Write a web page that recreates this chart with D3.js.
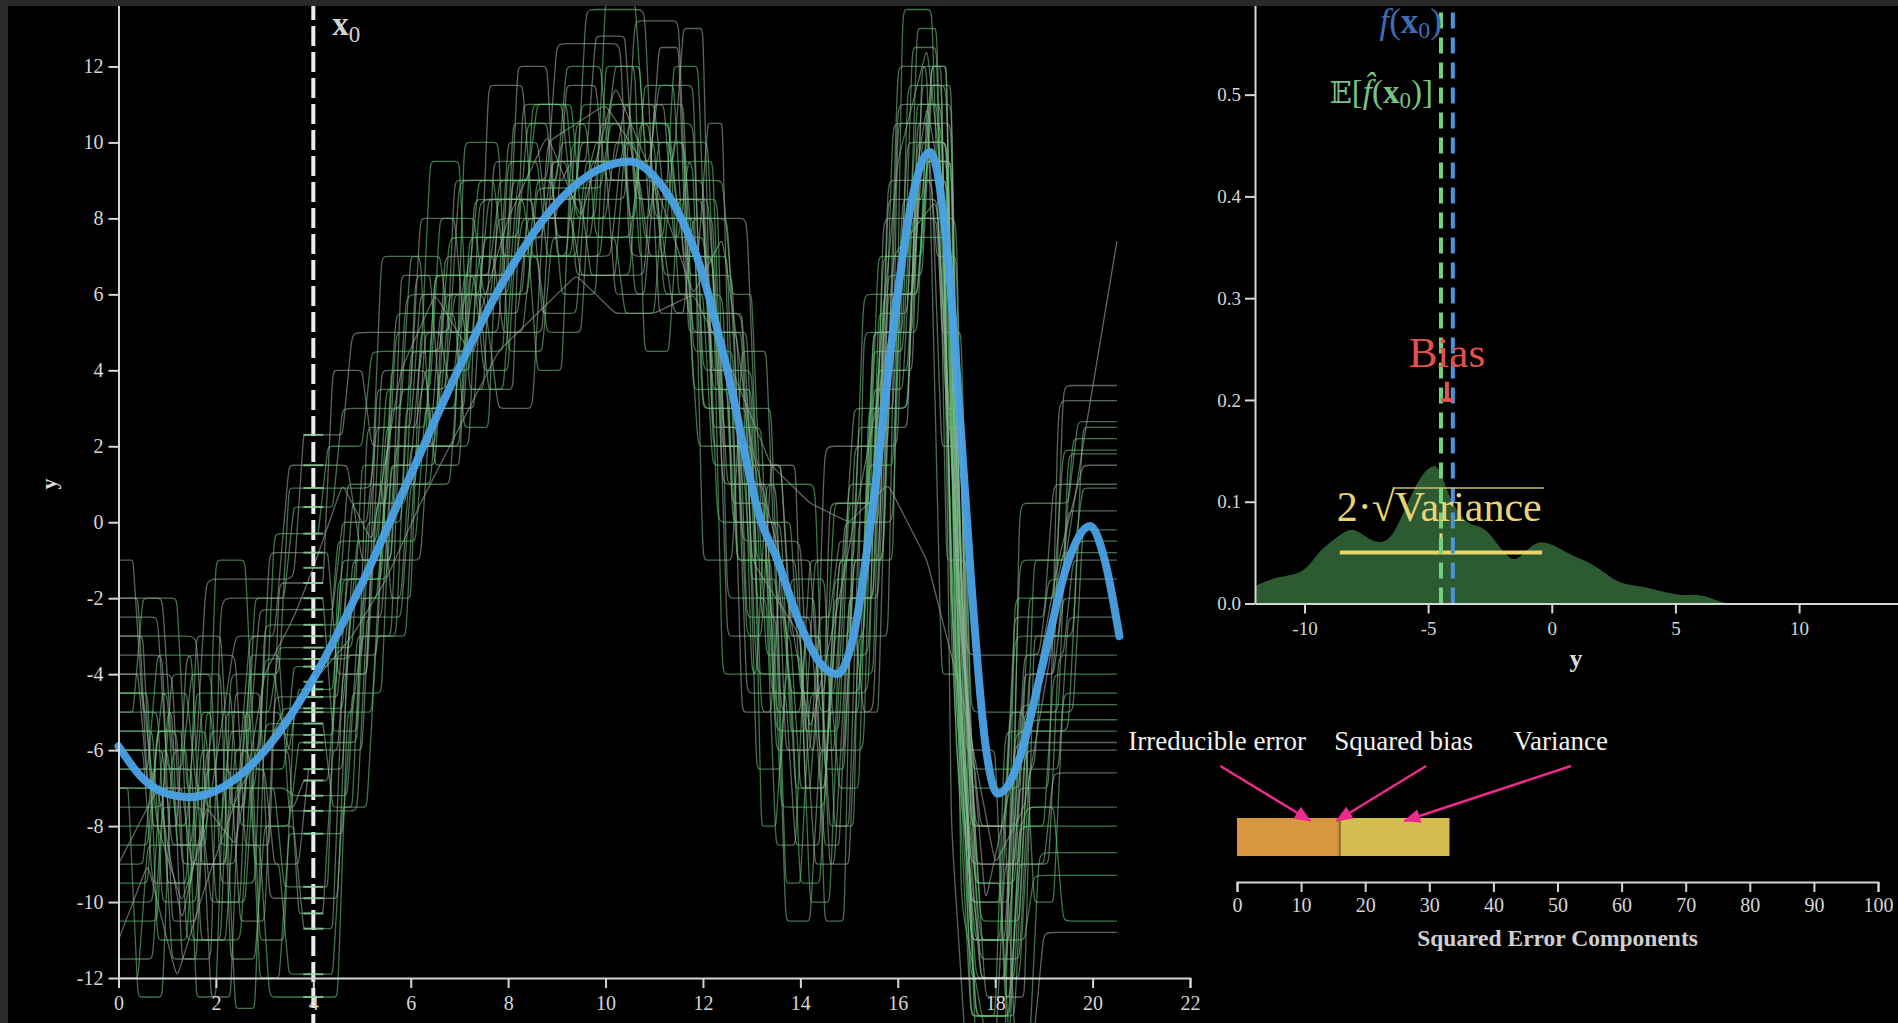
<!DOCTYPE html>
<html>
<head>
<meta charset="utf-8">
<script src="https://cdn.jsdelivr.net/npm/d3@7"></script>
<style>
html, body { margin: 0; padding: 0; background: #000; overflow: hidden; }
svg { display: block; }
</style>
</head>
<body>
<svg id="chart" width="1898" height="1023"></svg>
<script>
const width = 1898;
const height = 1023;

// true function f(x)
const fX = [0, 0.5, 1, 1.42, 2, 3, 4, 5, 6, 7, 8, 9, 10, 10.5, 11, 12, 12.5, 13.2, 13.5, 14, 14.4, 14.76, 15.1, 15.5, 16, 16.3, 16.66, 17, 17.3, 17.5, 17.8, 18.05, 18.3, 18.5, 19, 19.5, 19.95, 20.25, 20.55];
const fY = [-5.9, -6.75, -7.15, -7.24, -7.07, -6.02, -4.12, -1.61, 1.25, 4.08, 6.56, 8.4, 9.37, 9.5, 9.1, 6.5, 4.0, 0.0, -0.9, -2.7, -3.7, -4.0, -2.94, 0.53, 6.05, 8.56, 9.75, 7.38, 2.35, -1.42, -5.85, -7.15, -6.85, -6.22, -3.62, -1.03, -0.1, -1.0, -3.0];

// fitted models (smoothed step functions), knots [x, y]
const fits = [
  [[0,-2],[0.9,-2],[1.1,-6],[1.6,-6],[1.8,-1.5],[3.6,-1.5],[3.8,2.3],[4,2.3],[4.6,2.3],[4.8,5],[6.8,5],[7,9],[8.8,9],[9,12.6],[10.3,12.6],[10.5,7],[12.2,7],[12.4,1],[13.5,1],[13.7,-6],[14.3,-6],[14.5,2],[15.8,2],[16,11],[16.9,11],[17.1,-2],[17.5,-9],[18.4,-9],[18.6,-4],[19.2,-4],[19.4,3.6],[20.5,3.6]],
  [[0,-4.5],[0.5,-4.5],[0.8,-8],[1.3,-10],[1.8,-8],[2.4,-3],[3.2,-3],[3.5,1.5],[4,1.5],[4.7,1.5],[5,-1],[5.6,-1],[5.9,6],[7.5,6],[7.8,3],[8.5,3],[8.8,10],[10,11],[11,9],[11.4,5.5],[12.8,5.5],[13,-1],[14,-3],[14.3,-9],[14.7,-9],[15,-2],[15.6,-2],[15.9,7],[16.8,8.5],[17.2,0],[17.7,-12],[18.2,-12],[18.5,-7],[19.1,-7],[19.3,3.2],[20.5,3.2]],
  [[0,-5.5],[1.2,-5.5],[1.4,-11],[2.1,-11],[2.3,-4],[3.3,-4],[3.5,0.9],[4,0.9],[5.2,0.9],[5.4,7],[6.2,7],[6.4,2],[7.2,2],[7.4,8.5],[9.4,8.5],[9.6,13.5],[10.8,13.5],[11,8],[12.5,8],[12.7,3],[13.4,3],[13.6,-5],[14.6,-5],[14.8,-1],[15.7,-1],[16,12],[16.6,12],[16.9,-4],[17.3,-4],[17.5,-13],[18.3,-13],[18.5,0.5],[19.5,0.5],[19.7,2.65],[20.5,2.65]],
  [[0,-3],[1.6,-3],[1.8,-7.5],[2.6,-7.5],[2.8,-2],[3.4,-2],[3.6,0.4],[4,0.4],[4.4,0.4],[4.6,3],[5.8,3],[6,7],[6.6,7],[6.8,5],[7.8,5],[8,9.5],[9.2,9.5],[9.4,6.5],[10.5,6.5],[10.7,10.5],[11.8,10.5],[12,4],[13,4],[13.2,-2.5],[13.7,-2.5],[13.9,-7],[14.2,-7],[14.4,-3.5],[15.4,-3.5],[15.6,4],[16,9.5],[16.6,12.5],[16.9,9],[17.2,-6],[17.6,-11],[18.1,-11],[18.4,-3],[19.6,-3],[19.8,2.5],[20.5,2.5]],
  [[0,-6.5],[0.6,-6.5],[0.8,-3.5],[1.5,-3.5],[1.7,-9],[2.2,-9],[2.4,-6],[3,-6],[3.2,-0.3],[4,-0.3],[4.1,-0.3],[4.3,2],[5,2],[5.2,4.5],[6.6,4.5],[6.8,7.5],[8.2,7.5],[8.4,10.5],[9.6,10.5],[9.8,7.5],[11.2,7.5],[11.4,12],[11.9,12],[12.1,5],[12.8,5],[13,-4],[13.8,-4],[14,-9.5],[14.4,-9.5],[14.6,-5],[15.2,-5],[15.4,3],[16.2,3],[16.4,10],[17,10],[17.2,3],[17.5,-8],[18.6,-8],[18.8,-1],[19.4,-1],[19.6,2.2],[20.5,2.2]],
  [[0,-9],[0.8,-7],[1.3,-10.5],[1.8,-7.5],[2.4,-8.5],[3,-4],[3.6,-2.5],[4,-1.2],[4.6,1],[5.2,-0.5],[5.8,4],[6.5,6],[7.2,4.5],[8,8],[8.8,10.2],[9.5,8],[10.2,11.5],[11,9],[11.8,6],[12.4,7.5],[13,2],[13.6,-1],[14.2,-5.5],[14.8,-2],[15.4,2],[16,6],[16.6,11],[17,8],[17.4,-4],[17.8,-10],[18.3,-7],[18.8,-4.5],[19.3,-1],[19.8,1.5],[20.5,1.5]],
  [[0,-1],[0.3,-1],[0.5,-5],[1.1,-5],[1.3,-11.5],[1.9,-11.5],[2.1,-2],[3.7,-2],[4,-2],[4.2,-2],[4.4,-5.5],[4.9,-5.5],[5.1,2.5],[6,2.5],[6.2,6],[7.4,6],[7.6,3.5],[8.1,3.5],[8.3,11],[9.1,11],[9.3,8.5],[10.4,8.5],[10.6,13.2],[11.5,13.2],[11.7,6.5],[12.6,6.5],[12.8,-0.5],[14,-0.5],[14.2,-6],[14.7,-6],[14.9,0],[15.9,0],[16.1,8],[17,8],[17.2,4],[17.4,-6],[18,-6],[18.2,-12.5],[18.6,-12.5],[18.8,-3],[19.3,-3],[19.5,0.3],[20.5,0.3]],
  [[0,-7.5],[0.9,-7.5],[1.1,-4],[1.9,-4],[2.1,-9.5],[2.8,-9.5],[3,-2.7],[4,-2.7],[4.5,-2.7],[4.7,1],[5.4,1],[5.6,-2],[6,-2],[6.2,5],[7,5],[7.2,7],[8.6,7],[8.8,5],[9.5,5],[9.7,9.5],[10.9,9.5],[11.1,11.5],[11.8,11.5],[12,3],[12.9,3],[13.1,-6.5],[13.6,-6.5],[13.8,-1.5],[14.5,-1.5],[14.7,-8],[15.1,-8],[15.3,5],[16.1,5],[16.3,12.5],[16.8,12.5],[17,-1],[17.4,-1],[17.6,-9.5],[18.4,-9.5],[18.6,-5],[19.6,-5],[19.8,-0.2],[20.5,-0.2]],
  [[0,-10],[0.7,-10],[0.9,-6],[1.4,-6],[1.6,-12.5],[2,-12.5],[2.2,-5],[3.1,-5],[3.3,-3.3],[4,-3.3],[4.8,-3.3],[5,1.5],[5.5,1.5],[5.7,5.5],[6.9,5.5],[7.1,2.5],[7.6,2.5],[7.8,9],[8.9,9],[9.1,6],[9.8,6],[10,12],[10.6,12],[10.8,4.5],[11.3,4.5],[11.5,8.5],[12.3,8.5],[12.5,-2],[13.3,-2],[13.5,-8.5],[13.9,-8.5],[14.1,-3],[15,-3],[15.2,2.5],[15.7,2.5],[15.9,10.5],[16.9,10.5],[17.1,-3],[17.5,-13],[18,-13],[18.2,-5.5],[19.5,-5.5],[19.7,-0.5],[20.5,-0.5]],
  [[0,-4.5],[1,-4.5],[1.2,-8.5],[1.8,-8.5],[2,-1],[2.6,-1],[2.8,-6.5],[3.4,-6.5],[3.6,-3.8],[4,-3.8],[4.3,-3.8],[4.5,-0.5],[5.3,-0.5],[5.5,3.5],[6.4,3.5],[6.6,8],[7.3,8],[7.5,6],[8.4,6],[8.6,8.8],[9.9,8.8],[10.1,10.5],[11.3,10.5],[11.5,6],[12,6],[12.2,1.5],[13.1,1.5],[13.3,-3.5],[14,-3.5],[14.2,-10],[14.6,-10],[14.8,-4],[15.5,-4],[15.7,6],[16.4,6],[16.6,9.5],[17,9.5],[17.2,1],[17.6,-14],[18.2,-14],[18.4,-2],[19.2,-2],[19.4,-0.8],[20.5,-0.8]],
  [[0,-11],[0.6,-9],[1.2,-12],[1.8,-9.5],[2.5,-7],[3.2,-5.5],[4,-4.2],[4.8,-3],[5.5,-1.5],[6.2,0.5],[7,2.5],[7.8,4.5],[8.6,5.5],[9.4,6.5],[10.2,5.5],[11,5.5],[11.8,6],[12.6,4],[13.4,1.5],[14.2,0.5],[15,0],[15.8,1],[16.6,-1],[17.4,-5],[18,-9],[18.6,-7.5],[19.2,-3],[19.8,2],[20.5,7.4]],
  [[0,-2.5],[0.8,-2.5],[1,-6.5],[2.3,-6.5],[2.5,-10.5],[3,-10.5],[3.2,-4.6],[4,-4.6],[4.5,-4.6],[4.7,-1.5],[5.2,-1.5],[5.4,4],[6.3,4],[6.5,1.5],[7,1.5],[7.2,6.5],[8,6.5],[8.2,12],[8.8,12],[9,7],[10.1,7],[10.3,9.5],[11.4,9.5],[11.6,13],[12,13],[12.2,2],[12.9,2],[13.1,-4],[14.8,-4],[15,1],[15.6,1],[15.8,6.5],[16.5,6.5],[16.7,11.5],[17.1,11.5],[17.3,-7],[17.7,-11.5],[18.5,-11.5],[18.7,-6.5],[19.3,-6.5],[19.5,-2.5],[20.5,-2.5]],
  [[0,-12],[0.4,-12],[0.6,-8.5],[1.5,-8.5],[1.7,-5],[2.7,-5],[2.9,-11],[3.4,-11],[3.6,-5],[4,-5],[4.8,-5],[5,-3],[5.7,-3],[5.9,3],[6.7,3],[6.9,9],[7.7,9],[7.9,7],[9.2,7],[9.4,10.5],[10.3,10.5],[10.5,8],[11.6,8],[11.8,5],[12.7,5],[12.9,-2.5],[13.5,-2.5],[13.7,-10.5],[14.2,-10.5],[14.4,-6],[15.3,-6],[15.5,3.5],[16.1,3.5],[16.3,8],[17.2,8],[17.4,-4],[17.8,-12.5],[18.3,-12.5],[18.5,-9],[19.1,-9],[19.3,-3.5],[20.5,-3.5]],
  [[0,-5],[0.3,-5],[0.5,-2],[1.2,-2],[1.4,-7],[2.2,-7],[2.4,-12.8],[2.8,-12.8],[3,-5.3],[4,-5.3],[4.2,-5.3],[4.4,-7.5],[4.8,-7.5],[5,-2],[5.8,-2],[6,2],[6.9,2],[7.1,10],[7.8,10],[8,4.5],[8.7,4.5],[8.9,7.5],[10.2,7.5],[10.4,5.5],[11,5.5],[11.2,9],[12.4,9],[12.6,6],[13,6],[13.2,0],[13.8,0],[14,-4.5],[15.2,-4.5],[15.4,-1],[15.9,-1],[16.1,13.5],[16.7,13.5],[16.9,5],[17.3,5],[17.5,-5],[18.6,-5],[18.8,-10],[19.2,-10],[19.4,-4.5],[20.5,-4.5]],
  [[0,-8],[1.4,-8],[1.6,-4.5],[2.3,-4.5],[2.5,-8],[3.5,-8],[3.7,-5.8],[4,-5.8],[4.9,-5.8],[5.1,0],[5.8,0],[6,4.5],[7.1,4.5],[7.3,6.5],[8.1,6.5],[8.3,8],[9.8,8],[10,13.8],[10.6,13.8],[10.8,10],[11.6,10],[11.8,7],[12.5,7],[12.7,-1],[13.4,-1],[13.6,-7.5],[14.5,-7.5],[14.7,-1.5],[15.3,-1.5],[15.5,5],[16.4,5],[16.6,11],[17.1,11],[17.3,-2],[17.7,-10.5],[18.5,-10.5],[18.7,-5.2],[20.5,-5.2]],
  [[0,-3.5],[0.9,-3.5],[1.1,-10.5],[1.6,-10.5],[1.8,-6.5],[3,-6.5],[3.2,-9],[3.7,-9],[3.9,-6.5],[4,-6.5],[4.6,-6.5],[4.8,-1],[5.6,-1],[5.8,6.5],[6.4,6.5],[6.6,3],[7.3,3],[7.5,7.5],[8.7,7.5],[8.9,9.5],[9.6,9.5],[9.8,12.8],[10.4,12.8],[10.6,8.5],[12,8.5],[12.2,2.5],[12.7,2.5],[12.9,-4.5],[13.7,-4.5],[13.9,-8.5],[14.4,-8.5],[14.6,0.5],[15.6,0.5],[15.8,9],[16.7,9],[16.9,2],[17.3,2],[17.5,-11],[18.2,-11],[18.4,-5.8],[20.5,-5.8]],
  [[0,-6],[0.5,-6],[0.7,-9.5],[1.4,-9.5],[1.6,-3],[2.1,-3],[2.3,-7.5],[3.6,-7.5],[3.8,-6.8],[4,-6.8],[4.3,-6.8],[4.5,-3.5],[5,-3.5],[5.2,1],[6.1,1],[6.3,5],[7.4,5],[7.6,11.5],[8.3,11.5],[8.5,8],[9.3,8],[9.5,6.5],[10.8,6.5],[11,11],[11.6,11],[11.8,4.5],[12.6,4.5],[12.8,1],[13.3,1],[13.5,-6],[14.2,-6],[14.4,-2.5],[15.1,-2.5],[15.3,-5],[15.6,-5],[15.8,4],[16.3,4],[16.5,12],[16.9,12],[17.1,-8],[17.4,-14],[18,-14],[18.2,-9],[19,-9],[19.2,-6.6],[20.5,-6.6]],
  [[0,-11.5],[0.7,-11.5],[0.9,-7.5],[1.7,-7.5],[1.9,-10],[2.5,-10],[2.7,-3.5],[3.3,-3.5],[3.5,-7.6],[4,-7.6],[4.9,-7.6],[5.1,-2.5],[5.8,-2.5],[6,1],[6.8,1],[7,4.5],[7.9,4.5],[8.1,10.5],[8.8,10.5],[9,7.5],[10.5,7.5],[10.7,9.5],[11.8,9.5],[12,-1],[12.6,-1],[12.8,4.5],[13.3,4.5],[13.5,-2],[14.3,-2],[14.5,-10.5],[14.9,-10.5],[15.1,2],[16,2],[16.2,11.5],[17,11.5],[17.2,-1.5],[17.6,-13],[18.4,-13],[18.6,-7.5],[20.5,-7.5]],
  [[0,-7],[0.2,-7],[0.4,-12.5],[0.9,-12.5],[1.1,-6],[2.7,-6],[2.9,-12],[3.3,-12],[3.5,-8.2],[4,-8.2],[4.6,-8.2],[4.8,-4.5],[5.4,-4.5],[5.6,1.5],[6.5,1.5],[6.7,6],[8,6],[8.2,9],[9,9],[9.2,12],[9.9,12],[10.1,9],[11,9],[11.2,6.5],[12.1,6.5],[12.3,0],[13.6,0],[13.8,-5.5],[14.1,-5.5],[14.3,-1],[15.1,-1],[15.3,6],[16.3,6],[16.5,10],[17,10],[17.2,-5],[17.6,-9.5],[18.1,-9.5],[18.3,-14],[18.7,-14],[18.9,-8.7],[20.5,-8.7]],
  [[0,-9.5],[0.6,-9.5],[0.8,-5.5],[1.3,-5.5],[1.5,-11],[2.5,-11],[2.7,-7],[3.2,-7],[3.4,-9.6],[4,-9.6],[4.3,-9.6],[4.5,-1.5],[5.4,-1.5],[5.6,4],[6.2,4],[6.4,9.5],[7,9.5],[7.2,3.5],[7.9,3.5],[8.1,7],[9.3,7],[9.5,11],[10.5,11],[10.7,7],[11.2,7],[11.4,10],[12.1,10],[12.3,3.5],[13,3.5],[13.2,-8],[13.5,-8],[13.7,-4],[14.6,-4],[14.8,-7],[15.2,-7],[15.4,1.5],[15.9,1.5],[16.1,7.5],[17,7.5],[17.2,-3],[17.6,-12],[18.5,-12],[18.7,-7.5],[19.2,-7.5],[19.4,-10.5],[20.5,-10.5]],
  [[0,-4],[1.1,-4],[1.3,-9],[2.2,-9],[2.4,-4.5],[2.9,-4.5],[3.1,-9.9],[4,-9.9],[4.5,-9.9],[4.7,-3.5],[5.3,-3.5],[5.5,2],[6.4,2],[6.6,5.5],[7.6,5.5],[7.8,8],[9,8],[9.2,11.5],[9.8,11.5],[10,9],[10.9,9],[11.1,12.5],[11.5,12.5],[11.7,5],[12.3,5],[12.5,-3],[13.2,-3],[13.4,1.5],[13.9,1.5],[14.1,-7],[14.5,-7],[14.7,-2],[15.5,-2],[15.7,8],[16.8,8],[17,3],[17.3,3],[17.5,-8],[18.2,-8],[18.4,-13.5],[18.8,-13.5],[19,-10.8],[20.5,-10.8]],
  [[0,-2],[0.4,-2],[0.6,-7],[1.7,-7],[1.9,-12.5],[2.3,-12.5],[2.5,-6],[3.5,-6],[3.7,-10.3],[4,-10.3],[4.2,-10.3],[4.4,-6],[5,-6],[5.2,-1],[6.2,-1],[6.4,3],[7.1,3],[7.3,8.5],[8.5,8.5],[8.7,5.5],[9.4,5.5],[9.6,9],[10.7,9],[10.9,7],[11.9,7],[12.1,10.5],[12.4,10.5],[12.6,0],[13.5,0],[13.7,-3],[14.4,-3],[14.6,-9],[15,-9],[15.2,-3],[15.8,-3],[16,10.5],[16.6,10.5],[16.8,7],[17.2,7],[17.4,-3.5],[18.9,-3.5],[19.1,-1.5],[20.5,-1.5]],
  [[0,-6.5],[1.3,-6.5],[1.5,-4],[2.1,-4],[2.3,-11.5],[2.8,-11.5],[3,-8],[3.6,-8],[3.8,-10.7],[4,-10.7],[4.4,-10.7],[4.6,-4],[5.1,-4],[5.3,0.5],[5.9,0.5],[6.1,6.5],[7.3,6.5],[7.5,4],[8,4],[8.2,8.5],[9.5,8.5],[9.7,6.5],[10.2,6.5],[10.4,10],[11.3,10],[11.5,8],[12.2,8],[12.4,2],[13,2],[13.2,-5],[14,-5],[14.2,-1],[14.9,-1],[15.1,3],[16.2,3],[16.4,9],[17,9],[17.2,-2],[17.5,-10],[18.3,-10],[18.5,-1],[19.6,-1],[19.8,0.9],[20.5,0.9]],
  [[0,-5.5],[0.7,-5.5],[0.9,-10],[1.6,-10],[1.8,-5],[2.6,-5],[2.8,-9],[3.3,-9],[3.5,-11.9],[4,-11.9],[4.4,-11.9],[4.6,-7.5],[5.1,-7.5],[5.3,-3],[5.9,-3],[6.1,2],[7,2],[7.2,7.5],[8.4,7.5],[8.6,4],[9.1,4],[9.3,10],[10.4,10],[10.6,6],[11.7,6],[11.9,2],[12.8,2],[13,-1.5],[13.5,-1.5],[13.7,-9.5],[14,-9.5],[14.2,-4.5],[15.4,-4.5],[15.6,5.5],[16.2,5.5],[16.4,13],[16.8,13],[17,2.5],[17.3,2.5],[17.5,-6.5],[18.8,-6.5],[19,-3],[20.5,-3]],
  [[0,-10.5],[0.8,-10.5],[1,-5],[1.9,-5],[2.1,-8.5],[2.9,-8.5],[3.1,-12.5],[4,-12.5],[4.5,-12.5],[4.7,-5],[5.2,-5],[5.4,-0.5],[6.1,-0.5],[6.3,3],[6.9,3],[7.1,6],[8.3,6],[8.5,11],[9.3,11],[9.5,8],[10.6,8],[10.8,11.5],[11.4,11.5],[11.6,7],[12.2,7],[12.4,-4],[13.1,-4],[13.3,1],[14.3,1],[14.5,-6.5],[14.9,-6.5],[15.1,-1],[15.7,-1],[15.9,6],[16.4,6],[16.6,9.5],[17.1,9.5],[17.3,-10],[17.8,-13.5],[18.3,-13.5],[18.5,-8],[19,-8],[19.2,-4],[20.5,-4]],
  [[0,-3],[0.5,-3],[0.7,-8],[1.2,-8],[1.4,-3.5],[2.4,-3.5],[2.6,-8.5],[3.1,-8.5],[3.3,-1.6],[4,-1.6],[4.2,-1.6],[4.4,4],[5,4],[5.2,2],[6.5,2],[6.7,7],[7.7,7],[7.9,5],[8.7,5],[8.9,9.5],[10,9.5],[10.2,6],[10.8,6],[11,9],[12,9],[12.2,4],[12.6,4],[12.8,-5],[13.4,-5],[13.6,-1],[14.2,-1],[14.4,-5],[15.5,-5],[15.7,2.5],[16.2,2.5],[16.4,10.5],[17.1,10.5],[17.3,-5.5],[17.7,-12],[18.4,-12],[18.6,-6],[20.5,-6]],
  [[0,-7],[0.9,-7],[1.1,-11.5],[1.6,-11.5],[1.8,-6],[2.9,-6],[3.1,-0.8],[4,-0.8],[4.3,-0.8],[4.5,-4],[5.1,-4],[5.3,3.5],[6,3.5],[6.2,8],[6.9,8],[7.1,5],[8.3,5],[8.5,7.5],[9.7,7.5],[9.9,10.5],[10.9,10.5],[11.1,5.5],[11.6,5.5],[11.8,8],[12.9,8],[13.1,1.5],[13.6,1.5],[13.8,-3],[14.4,-3],[14.6,-8],[15,-8],[15.2,0],[15.6,0],[15.8,8.5],[16.5,8.5],[16.7,12],[17,12],[17.2,-1],[17.6,-8],[18.2,-8],[18.4,-2.5],[19,-2.5],[19.2,1],[20.5,1]],
  [[0,-5],[0.8,-5],[1,-9.5],[1.5,-9.5],[1.7,-6],[2.5,-6],[2.7,-3],[4,-3],[4.6,-3],[4.8,0.5],[5.5,0.5],[5.7,5],[6.6,5],[6.8,3.5],[7.5,3.5],[7.7,9.5],[8.6,9.5],[8.8,7],[9.9,7],[10.1,11],[11,11],[11.2,8.5],[12.1,8.5],[12.3,5],[12.9,5],[13.1,-1],[13.9,-1],[14.1,-5.5],[14.6,-5.5],[14.8,-1],[15.3,-1],[15.5,5],[16,5],[16.2,10],[17,10],[17.2,0],[17.5,-10],[18.1,-10],[18.3,-5],[19.3,-5],[19.5,1.8],[20.5,1.8]],
  [[0,-8.5],[0.6,-8.5],[0.8,-5.5],[1.8,-5.5],[2,-10],[2.6,-10],[2.8,-6],[3.5,-6],[3.7,-4.4],[4,-4.4],[4.4,-4.4],[4.6,-1],[5.3,-1],[5.5,2.5],[6.3,2.5],[6.5,6.5],[7.6,6.5],[7.8,8.5],[8.9,8.5],[9.1,10],[10,10],[10.2,12],[10.7,12],[10.9,8],[11.8,8],[12,3],[12.7,3],[12.9,-3],[13.8,-3],[14,-7],[14.5,-7],[14.7,-3],[15.3,-3],[15.5,4.5],[16.1,4.5],[16.3,9],[16.9,9],[17.1,-1],[17.5,-11],[18.3,-11],[18.5,-4.8],[20.5,-4.8]],
  [[0,-6],[1,-6],[1.2,-8],[2.1,-8],[2.3,-5.5],[3.2,-5.5],[3.4,-4.9],[4,-4.9],[4.6,-4.9],[4.8,-2],[5.3,-2],[5.5,1],[6.4,1],[6.6,4],[7.2,4],[7.4,7],[8.4,7],[8.6,9],[9.6,9],[9.8,10],[10.6,10],[10.8,7.5],[11.5,7.5],[11.7,9.5],[12.2,9.5],[12.4,2.5],[13.2,2.5],[13.4,-4.5],[14.5,-4.5],[14.7,0.5],[15.4,0.5],[15.6,7],[16.2,7],[16.4,11],[16.8,11],[17,6],[17.3,-5],[17.7,-11],[18.6,-11],[18.8,-9.3],[20.5,-9.3]],
  [[0,-4],[0.4,-4],[0.6,-7],[1.3,-7],[1.5,-9],[2.4,-9],[2.6,-5],[3.3,-5],[3.5,-6],[4,-6],[4.5,-6],[4.7,-2.5],[5.4,-2.5],[5.6,1.5],[6,1.5],[6.2,4.5],[7.3,4.5],[7.5,5.5],[8.2,5.5],[8.4,8],[9.3,8],[9.5,10],[10.5,10],[10.7,8.5],[11.5,8.5],[11.7,5.5],[12.3,5.5],[12.5,1],[13.2,1],[13.4,-2.5],[14.2,-2.5],[14.4,-6],[14.9,-6],[15.1,-1],[15.6,-1],[15.8,6],[16.3,6],[16.5,9.5],[17.1,9.5],[17.3,-2],[17.6,-9],[18.5,-9],[18.7,-4],[19.2,-4],[19.4,-2],[20.5,-2]],
  [[0,-6],[0.9,-6],[1.1,-8.5],[1.7,-8.5],[1.9,-5.5],[2.7,-5.5],[2.9,-2.3],[4,-2.3],[4.4,-2.3],[4.6,0],[5.1,0],[5.3,2.5],[6.1,2.5],[6.3,4],[6.9,4],[7.1,6.5],[7.9,6.5],[8.1,9],[9.1,9],[9.3,9.5],[10.2,9.5],[10.4,11],[11.2,11],[11.4,7.5],[12,7.5],[12.2,5.5],[12.8,5.5],[13,1.5],[13.6,1.5],[13.8,-2.5],[14.6,-2.5],[14.8,-0.5],[15.4,-0.5],[15.6,3],[15.9,3],[16.1,8.5],[16.8,8.5],[17,4],[17.3,-3],[17.7,-8],[18.4,-8],[18.6,-3.5],[19.4,-3.5],[19.6,-1],[20.5,-1]],
  [[0,-9],[0.5,-9],[0.7,-6.5],[1.5,-6.5],[1.7,-11],[2.2,-11],[2.4,-7],[3.4,-7],[3.6,-7.2],[4,-7.2],[4.7,-7.2],[4.9,-3],[5.6,-3],[5.8,3.5],[6.7,3.5],[6.9,6],[7.8,6],[8,10],[8.6,10],[8.8,8],[10,8],[10.2,10],[11,10],[11.2,6],[12.4,6],[12.6,0.5],[13.3,0.5],[13.5,-5],[14.3,-5],[14.5,-8.5],[14.8,-8.5],[15,-2],[15.5,-2],[15.7,5],[16.3,5],[16.5,11.5],[16.9,11.5],[17.1,-2],[17.5,-12],[18.2,-12],[18.4,-5.5],[20.5,-5.5]],
  [[0,-7],[0.7,-7],[0.9,-4.5],[1.4,-4.5],[1.6,-7],[2.8,-7],[3,-3.6],[4,-3.6],[4.7,-3.6],[4.9,-0.5],[5.4,-0.5],[5.6,3],[6.6,3],[6.8,6],[7.4,6],[7.6,8.5],[8.3,8.5],[8.5,7],[9.4,7],[9.6,9.5],[10.3,9.5],[10.5,10.5],[11.3,10.5],[11.5,8],[12,8],[12.2,3.5],[12.9,3.5],[13.1,-2],[13.6,-2],[13.8,-4.5],[14.7,-4.5],[14.9,-1],[15.4,-1],[15.6,4],[16.2,4],[16.4,9],[17,9],[17.2,1.5],[17.5,-7],[18.5,-7],[18.7,-2],[19.2,-2],[19.4,1.9],[20.5,1.9]],
  [[0,-4.5],[0.6,-4.5],[0.8,-11],[1.4,-11],[1.6,-7],[2.5,-7],[2.7,-4],[3.2,-4],[3.4,-5.6],[4,-5.6],[4.4,-5.6],[4.6,-1.5],[5.5,-1.5],[5.7,2],[6.3,2],[6.5,6.5],[7.2,6.5],[7.4,9],[8.4,9],[8.6,11],[9.2,11],[9.4,8],[10.9,8],[11.1,10],[11.6,10],[11.8,3.5],[12.5,3.5],[12.7,-1],[13.3,-1],[13.5,-5.5],[14.8,-5.5],[15,0.5],[15.5,0.5],[15.7,7],[16.5,7],[16.7,12],[17,12],[17.2,-4],[17.6,-13],[18.3,-13],[18.5,-8],[20.5,-8]]
];

// point of interest and summary numbers
const x0 = 4;
const fAtX0 = -4.0;
const meanFit = -4.48;
const sdFit = 4.09;

// density of predictions at x0
const densX = [-12, -11.9, -11.07, -10.36, -9.82, -9.38, -8.75, -8.21, -7.86, -7.32, -6.88, -6.43, -5.89, -5.36, -4.82, -4.55, -4.1, -3.57, -3.21, -2.68, -2.14, -1.61, -1.25, -0.54, 0.18, 0.89, 1.6, 2.32, 2.86, 3.75, 4.64, 5.36, 5.98, 6.43, 6.96, 7.5];
const densY = [0.017, 0.0185, 0.0266, 0.028, 0.036, 0.0526, 0.064, 0.0737, 0.072, 0.062, 0.059, 0.0656, 0.0948, 0.124, 0.137, 0.134, 0.101, 0.082, 0.077, 0.075, 0.056, 0.041, 0.046, 0.064, 0.056, 0.046, 0.040, 0.0266, 0.0185, 0.0169, 0.0104, 0.0078, 0.0088, 0.0055, 0, 0];

// squared error components
const components = ["Irreducible error", "Squared bias", "Variance"];
const componentValues = [15.9, 0.25, 17.0];
const componentLabelAt = [-3.1, 26, 50.5];
const arrowFrom = [-2.6, 29.5, 52.1];
const arrowTo = [11.5, 15.5, 26.1];

// tick values
const leftXTicks = [0, 2, 4, 6, 8, 10, 12, 14, 16, 18, 20, 22];
const leftYTicks = [-12, -10, -8, -6, -4, -2, 0, 2, 4, 6, 8, 10, 12];
const rightXTicks = [-10, -5, 0, 5, 10];
const rightYTicks = [0, 0.1, 0.2, 0.3, 0.4, 0.5];
const barTicks = [0, 10, 20, 30, 40, 50, 60, 70, 80, 90, 100];

const FONT = "Liberation Serif, DejaVu Serif, serif";
const AXIS = "#d6d6d6";

let svg = d3.select("#chart").attr("width", width).attr("height", height);

// scales
let xL = d3.scaleLinear().domain([0, 22]).range([118.5, 1190]);
let yL = d3.scaleLinear().domain([-12, 13.75]).range([978, 0]);
let xR = d3.scaleLinear().domain([-12, 14]).range([1255, 1898]);
let yR = d3.scaleLinear().domain([0, 0.593]).range([603.5, 0]);
let xB = d3.scaleLinear().domain([0, 100]).range([1237, 1878]);

function styleAxis(g, size) {
    g.attr("font-family", FONT);
    g.select(".domain").attr("stroke", AXIS).attr("stroke-width", 2);
    g.selectAll(".tick line").attr("stroke", AXIS).attr("stroke-width", 2);
    g.selectAll(".tick text").attr("fill", AXIS).attr("font-size", size);
}

//---------------- left panel: fits and true function
// each knot is doubled so the B-spline keeps the plateaus and only rounds the corners
let fitColor = d3.interpolateRgb("#a3aca4", "#52d46c");
let fitLine = d3.line().x(d => xL(d[0])).y(d => yL(d[1])).curve(d3.curveBasis);

svg.append("g")
    .selectAll("path")
    .data(fits)
    .join("path")
    .attr("d", d => fitLine(d.flatMap(k => [k, k])))
    .attr("fill", "none")
    .attr("stroke", (d, i) => fitColor(((i * 7) % fits.length) / (fits.length - 1)))
    .attr("stroke-width", 1.3)
    .attr("stroke-opacity", 0.58);

// x0 dashed line
svg.append("line")
    .attr("x1", xL(x0)).attr("x2", xL(x0))
    .attr("y1", 0).attr("y2", height)
    .attr("stroke", "#ececec")
    .attr("stroke-width", 4)
    .attr("stroke-dasharray", "20,6");

// predictions at x0
svg.append("g")
    .selectAll("line")
    .data(fits.map(f => f.find(k => k[0] === x0)))
    .join("line")
    .attr("x1", xL(x0) - 10).attr("x2", xL(x0) + 10)
    .attr("y1", d => yL(d[1])).attr("y2", d => yL(d[1]))
    .attr("stroke", "#8fd49b")
    .attr("stroke-width", 2)
    .attr("stroke-opacity", 0.8);

// true function
let trueLine = d3.line().x(d => xL(d[0])).y(d => yL(d[1])).curve(d3.curveMonotoneX);
svg.append("path")
    .attr("d", trueLine(fX.map((x, i) => [x, fY[i]])))
    .attr("fill", "none")
    .attr("stroke", "#4aa2e6")
    .attr("stroke-width", 8)
    .attr("stroke-linecap", "round")
    .attr("stroke-opacity", 0.95);

// axes
let gxL = svg.append("g")
    .attr("transform", "translate(0," + yL(-12) + ")")
    .call(d3.axisBottom(xL).tickValues(leftXTicks).tickSize(10).tickPadding(8).tickFormat(d => String(d)));
styleAxis(gxL, 20);

let gyL = svg.append("g")
    .attr("transform", "translate(" + xL(0) + ",0)")
    .call(d3.axisLeft(yL).tickValues(leftYTicks).tickSize(10).tickSizeOuter(0).tickPadding(5).tickFormat(d => String(d)));
styleAxis(gyL, 20);

svg.append("text")
    .attr("transform", "translate(56,484) rotate(-90)")
    .attr("text-anchor", "middle")
    .attr("font-family", FONT)
    .attr("font-weight", "bold")
    .attr("font-size", 22)
    .attr("fill", "#dcdcdc")
    .text("y");

let x0Label = svg.append("text")
    .attr("x", xL(x0) + 19).attr("y", 35)
    .attr("font-family", FONT)
    .attr("fill", "#d4d4d4");
x0Label.append("tspan").attr("font-weight", "bold").attr("font-size", 33).text("x");
x0Label.append("tspan").attr("font-size", 23).attr("dy", 7).text("0");

//---------------- right panel: density of predictions
let densArea = d3.area()
    .x(d => xR(d[0]))
    .y0(yR(0))
    .y1(d => yR(d[1]))
    .curve(d3.curveBasis);

svg.append("path")
    .attr("d", densArea(densX.map((x, i) => [x, densY[i]])))
    .attr("fill", "#2c5a31");

// variance bar
svg.append("line")
    .attr("x1", xR(meanFit - sdFit)).attr("x2", xR(meanFit + sdFit))
    .attr("y1", yR(0.05)).attr("y2", yR(0.05))
    .attr("stroke", "#ebd46a").attr("stroke-width", 4);
svg.append("line")
    .attr("x1", xR(meanFit)).attr("x2", xR(meanFit))
    .attr("y1", yR(0.05)).attr("y2", yR(0.069))
    .attr("stroke", "#ebd46a").attr("stroke-width", 3);

// mean and truth lines
svg.append("line")
    .attr("x1", xR(meanFit)).attr("x2", xR(meanFit))
    .attr("y1", yR(0)).attr("y2", 0)
    .attr("stroke", "#72d27f").attr("stroke-width", 4)
    .attr("stroke-dasharray", "16,9");
svg.append("line")
    .attr("x1", xR(fAtX0)).attr("x2", xR(fAtX0))
    .attr("y1", yR(0)).attr("y2", 0)
    .attr("stroke", "#4d93dc").attr("stroke-width", 4)
    .attr("stroke-dasharray", "16,9");

// bias marker
let biasMid = (meanFit + fAtX0) / 2;
svg.append("line")
    .attr("x1", xR(meanFit)).attr("x2", xR(fAtX0))
    .attr("y1", yR(0.2)).attr("y2", yR(0.2))
    .attr("stroke", "#e0524a").attr("stroke-width", 4);
svg.append("line")
    .attr("x1", xR(biasMid)).attr("x2", xR(biasMid))
    .attr("y1", yR(0.2)).attr("y2", yR(0.218))
    .attr("stroke", "#e0524a").attr("stroke-width", 4);
svg.append("text")
    .attr("x", xR(biasMid)).attr("y", yR(0.2) - 33)
    .attr("text-anchor", "middle")
    .attr("font-family", FONT)
    .attr("font-size", 43)
    .attr("fill", "#e0524a")
    .text("Bias");

// variance label with square root
let varText = svg.append("text")
    .attr("x", xR(meanFit - sdFit) - 3).attr("y", yR(0.081))
    .attr("font-family", FONT)
    .attr("font-size", 42)
    .attr("fill", "#e8d476");
varText.append("tspan").text("2·√");
varText.append("tspan").text("Variance");
let vNode = varText.node();
let rootEnd = +varText.attr("x") + vNode.getSubStringLength(0, 3);
let textEnd = +varText.attr("x") + vNode.getComputedTextLength();
svg.append("line")
    .attr("x1", rootEnd - 2).attr("x2", textEnd + 2)
    .attr("y1", yR(0.081) - 33).attr("y2", yR(0.081) - 33)
    .attr("stroke", "#c9bb7a").attr("stroke-width", 1.5);

// labels for the two vertical lines
let fLabel = svg.append("text")
    .attr("x", xR(meanFit) + 1).attr("y", 33)
    .attr("text-anchor", "end")
    .attr("font-family", FONT)
    .attr("font-size", 35)
    .attr("fill", "#3c6eb6");
fLabel.append("tspan").attr("font-style", "italic").text("f");
fLabel.append("tspan").text("(");
fLabel.append("tspan").attr("font-weight", "bold").text("x");
fLabel.append("tspan").attr("font-size", 24).attr("dy", 5).text("0");
fLabel.append("tspan").attr("dy", -5).text(")");

let eLabel = svg.append("text")
    .attr("x", xR(meanFit) - 8).attr("y", 103)
    .attr("text-anchor", "end")
    .attr("font-family", FONT)
    .attr("font-size", 33)
    .attr("fill", "#77c384");
eLabel.append("tspan").attr("font-family", "DejaVu Serif, DejaVu Sans, serif").attr("font-size", 29).text("\u{1D53C}");
eLabel.append("tspan").text("[");
eLabel.append("tspan").attr("font-style", "italic").text("f\u0302");
eLabel.append("tspan").text("(");
eLabel.append("tspan").attr("font-weight", "bold").text("x");
eLabel.append("tspan").attr("font-size", 23).attr("dy", 5).text("0");
eLabel.append("tspan").attr("dy", -5).text(")]");

// axes
let gxR = svg.append("g")
    .attr("transform", "translate(0," + yR(0) + ")")
    .call(d3.axisBottom(xR).tickValues(rightXTicks).tickSize(10).tickSizeOuter(0).tickPadding(8).tickFormat(d => String(d)));
styleAxis(gxR, 19);

let gyR = svg.append("g")
    .attr("transform", "translate(" + xR(-12) + ",0)")
    .call(d3.axisLeft(yR).tickValues(rightYTicks).tickSize(10).tickSizeOuter(0).tickPadding(4).tickFormat(d3.format(".1f")));
styleAxis(gyR, 19);

svg.append("text")
    .attr("x", 1576).attr("y", 667)
    .attr("text-anchor", "middle")
    .attr("font-family", FONT)
    .attr("font-weight", "bold")
    .attr("font-size", 26)
    .attr("fill", "#dcdcdc")
    .text("y");

//---------------- bottom right: stacked bar of error components
let ends = d3.cumsum(componentValues);
let starts = ends.map((e, i) => e - componentValues[i]);
let barColors = ["#d8963e", "#b4652b", "#d5bd50"];

svg.append("g")
    .selectAll("rect")
    .data(components)
    .join("rect")
    .attr("x", (d, i) => xB(starts[i]))
    .attr("width", (d, i) => xB(ends[i]) - xB(starts[i]))
    .attr("y", 818)
    .attr("height", 38)
    .attr("fill", (d, i) => barColors[i]);

let gxB = svg.append("g")
    .attr("transform", "translate(0,882)")
    .call(d3.axisBottom(xB).tickValues(barTicks).tickSize(10).tickPadding(6));
styleAxis(gxB, 20);

svg.append("text")
    .attr("x", xB(50)).attr("y", 946)
    .attr("text-anchor", "middle")
    .attr("font-family", FONT)
    .attr("font-weight", "bold")
    .attr("font-size", 23.5)
    .attr("fill", "#cfcfcf")
    .text("Squared Error Components");

svg.append("g")
    .selectAll("text")
    .data(components)
    .join("text")
    .attr("x", (d, i) => xB(componentLabelAt[i]))
    .attr("y", 750)
    .attr("text-anchor", "middle")
    .attr("font-family", FONT)
    .attr("font-size", 27)
    .attr("fill", "#f2f2f2")
    .text(d => d);

svg.append("defs").append("marker")
    .attr("id", "arrow")
    .attr("markerUnits", "userSpaceOnUse")
    .attr("markerWidth", 18).attr("markerHeight", 14)
    .attr("refX", 16).attr("refY", 7)
    .attr("orient", "auto")
    .append("path")
    .attr("d", "M0,0L17,7L0,14Z")
    .attr("fill", "#ec2b8c");

svg.append("g")
    .selectAll("line")
    .data(components)
    .join("line")
    .attr("x1", (d, i) => xB(arrowFrom[i])).attr("y1", 766)
    .attr("x2", (d, i) => xB(arrowTo[i])).attr("y2", 821)
    .attr("stroke", "#ec2b8c")
    .attr("stroke-width", 2.5)
    .attr("marker-end", "url(#arrow)");

//---------------- window frame
svg.append("rect").attr("x", 0).attr("y", 0).attr("width", width).attr("height", 6).attr("fill", "#2a2a2a");
svg.append("rect").attr("x", 0).attr("y", 0).attr("width", 8).attr("height", height).attr("fill", "#2a2a2a");
</script>
</body>
</html>
